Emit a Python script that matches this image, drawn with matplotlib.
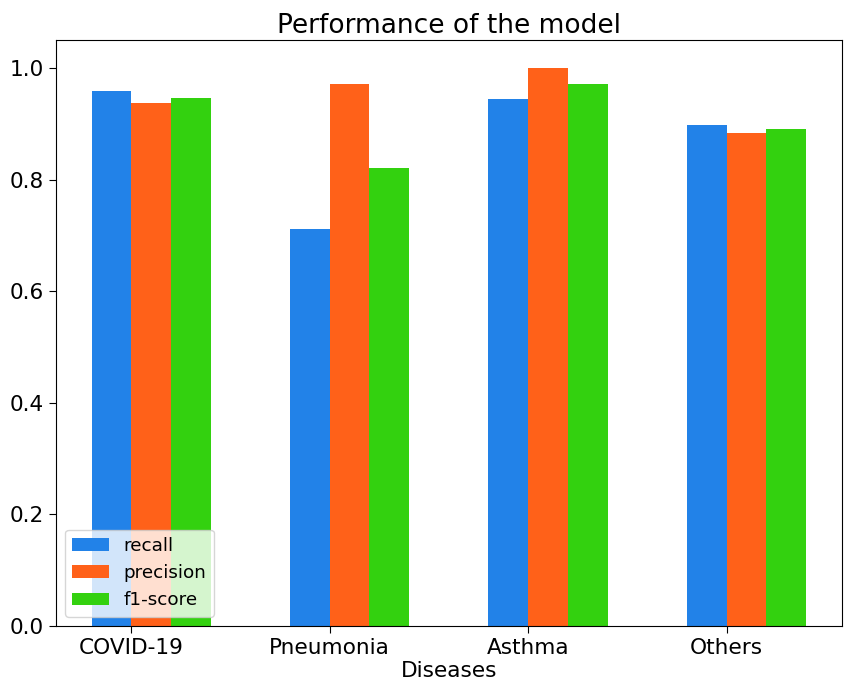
import matplotlib
matplotlib.use("Agg")
import matplotlib.pyplot as plt
import numpy as np

diseases = ["COVID-19", "Pneumonia", "Asthma", "Others"]
recall = [0.959, 0.711, 0.945, 0.898]
precision = [0.937, 0.972, 1.000, 0.884]
f1_score = [0.947, 0.821, 0.971, 0.891]

colors = ["#2282e8", "#ff6119", "#33d10f"]

fig = plt.figure(figsize=(8.51, 6.96), dpi=100)
ax = fig.add_axes([0.0658, 0.1006, 0.9232, 0.8419])

x = np.arange(len(diseases))
w = 0.2
ax.bar(x - 0.1, recall, w, color=colors[0], label="recall")
ax.bar(x + 0.1, precision, w, color=colors[1], label="precision")
ax.bar(x + 0.3, f1_score, w, color=colors[2], label="f1-score")

ax.set_xticks(x)
ax.set_xticklabels(diseases)
ax.tick_params(labelsize=15.6, length=5)
ax.set_xlabel("Diseases", fontsize=15.6, labelpad=2)
ax.set_title("Performance of the model", fontsize=19, pad=5)
ax.legend(loc="lower left", fontsize=13.2)

fig.savefig("out.png", dpi=100)
